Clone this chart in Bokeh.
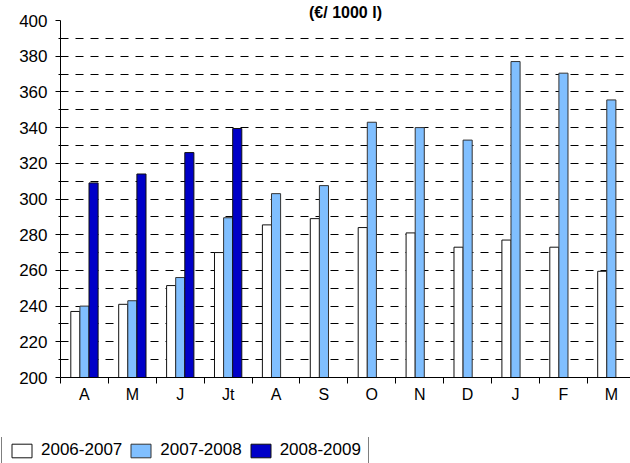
import numpy as np
from bokeh.plotting import figure
from bokeh.layouts import column
from bokeh.models import (ColumnDataSource, FixedTicker, Legend, LegendItem,
                          Range1d)
from bokeh.transform import dodge
from bokeh.embed import file_html
from bokeh.resources import INLINE

# ---- data ----
months = ["A", "M", "J", "Jt", "A", "S", "O", "N", "D", "J", "F", "M"]
series_names = ["2006-2007", "2007-2008", "2008-2009"]
values_2006_2007 = [237, 241, 251.5, 270, 285.5, 289, 284, 281, 273, 277, 273, 259.5]
values_2007_2008 = [240, 243, 256, 289.5, 303, 307.5, 343, 340, 333, 377, 370.5, 355.5]
values_2008_2009 = [309, 314, 326, 339.5]
title_text = "(€/ 1000 l)"
y_ticks = list(range(200, 401, 20))

FONT = "Liberation Sans"
colors = ["white", "#80BFFF", "#0000C8"]
outlines = ["#111111", "#333333", "#111111"]

x_pos = np.arange(len(months)) + 0.5
src_a = ColumnDataSource(dict(x=x_pos, top=values_2006_2007))
src_b = ColumnDataSource(dict(x=x_pos, top=values_2007_2008))
src_c = ColumnDataSource(dict(x=x_pos[:len(values_2008_2009)], top=values_2008_2009))

p = figure(width=630, height=437,
           x_range=Range1d(0, 11.9), y_range=Range1d(200, 400),
           output_backend="svg", toolbar_location=None,
           min_border_left=60, min_border_right=0,
           min_border_top=20, min_border_bottom=60)
p.outline_line_color = None
p.frame_align = False

# title (above the plot)
p.title.text = title_text
p.title.align = "center"
p.title.offset = -7
p.title.standoff = 0
p.title.text_font = FONT
p.title.text_font_size = "16px"
p.title.text_font_style = "bold"
p.title.text_color = "black"

# grid
p.xgrid.visible = False
p.ygrid.ticker = FixedTicker(ticks=list(range(210, 400, 10)))
p.ygrid.grid_line_color = "black"
p.ygrid.grid_line_dash = "8 7"
p.ygrid.grid_line_width = 1

bw = 0.19
r_a = p.vbar(x=dodge("x", -bw, range=p.x_range), top="top", bottom=200, width=bw,
             source=src_a, fill_color=colors[0], line_color=outlines[0], line_width=1)
r_b = p.vbar(x="x", top="top", bottom=200, width=bw,
             source=src_b, fill_color=colors[1], line_color=outlines[1], line_width=1)
r_c = p.vbar(x=dodge("x", bw, range=p.x_range), top="top", bottom=200, width=bw,
             source=src_c, fill_color=colors[2], line_color=outlines[2], line_width=1)

# x axis
xa = p.xaxis[0]
xa.ticker = FixedTicker(ticks=list(x_pos), minor_ticks=list(range(0, 13)))
xa.major_label_overrides = {float(x): m for x, m in zip(x_pos, months)}
xa.major_tick_out = 0
xa.major_tick_in = 0
xa.minor_tick_out = 6
xa.minor_tick_in = 0
xa.minor_tick_line_color = "black"
xa.axis_line_color = "black"
xa.major_label_text_font = FONT
xa.major_label_text_font_size = "16px"
xa.major_label_text_color = "black"
xa.major_label_standoff = 2

# y axis
ya = p.yaxis[0]
ya.ticker = FixedTicker(ticks=y_ticks, minor_ticks=list(range(210, 400, 20)))
ya.major_tick_out = 5
ya.major_tick_in = 0
ya.minor_tick_out = 2
ya.minor_tick_in = 0
ya.major_tick_line_color = "black"
ya.minor_tick_line_color = "black"
ya.axis_line_color = "black"
ya.major_label_text_font = FONT
ya.major_label_text_font_size = "17px"
ya.major_label_text_color = "black"
ya.major_label_standoff = 8

# legend in its own strip below the chart
lf = figure(width=630, height=26, x_range=Range1d(0, 1), y_range=Range1d(0, 1),
            output_backend="svg", toolbar_location=None,
            min_border_left=0, min_border_right=0, min_border_top=0, min_border_bottom=0)
lf.frame_align = False
lf.axis.visible = False
lf.grid.visible = False
lf.outline_line_color = None
lr = [lf.vbar(x="x", top="top", bottom=0, width=0.1,
              source=ColumnDataSource(dict(x=[5.0], top=[0.5])),
              fill_color=c, line_color=o, line_width=1)
      for c, o in zip(colors, outlines)]
legend = Legend(items=[LegendItem(label=n, renderers=[r]) for n, r in zip(series_names, lr)],
                orientation="horizontal", location=(1, -5),
                glyph_width=25, glyph_height=17, label_standoff=7, spacing=6,
                label_height=17, padding=7, margin=0, label_text_font=FONT,
                label_text_font_size="17px", label_text_color="black",
                border_line_color="black", border_line_width=1,
                background_fill_color="white", background_fill_alpha=1)
lf.add_layout(legend, "center")

layout = column(p, lf, spacing=0)
open("out.html", "w").write(file_html(layout, INLINE))
